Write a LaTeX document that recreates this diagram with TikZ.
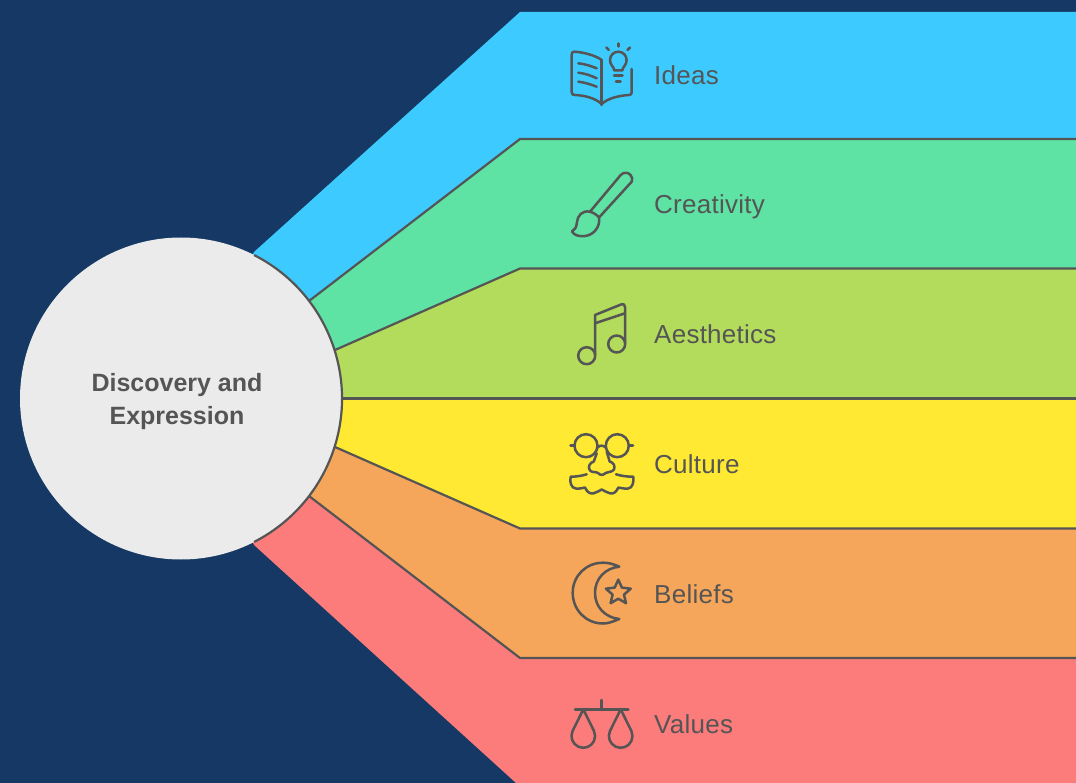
\documentclass[tikz,border=0pt]{standalone}
\usepackage{fontspec}
\setmainfont{Liberation Sans}
\definecolor{navy}{HTML}{153864}
\definecolor{bandblue}{HTML}{3DCBFF}
\definecolor{bandgreen}{HTML}{5EE3A5}
\definecolor{bandlime}{HTML}{B3DC5C}
\definecolor{bandyellow}{HTML}{FFE933}
\definecolor{bandorange}{HTML}{F5A65A}
\definecolor{bandred}{HTML}{FC7B7B}
\definecolor{hubgrey}{HTML}{EBEBEB}
\definecolor{ink}{HTML}{555555}
\tikzset{
  sep/.style={draw=ink,line width=2.2pt,line join=round},
  icon/.style={draw=ink,line width=2.5pt,line cap=round,line join=round},
  lab/.style={text=ink,font=\fontsize{26}{30}\selectfont\addfontfeature{LetterSpace=1},anchor=base west,inner sep=0pt},
}
\begin{document}
\begin{tikzpicture}[x=1pt,y=-1pt]
\useasboundingbox (0,0) rectangle (1076,783);
\fill[navy] (0,0) rectangle (1076,783);
% corner coordinates of the bands
\coordinate (c) at (181,398.5);
\coordinate (k0) at (520,12);  \coordinate (e0) at (1076,12);
\coordinate (k1) at (520,139); \coordinate (e1) at (1076,139);
\coordinate (k2) at (520,268.5); \coordinate (e2) at (1076,268.5);
\coordinate (k3) at (520,398.5); \coordinate (e3) at (1076,398.5);
\coordinate (k4) at (520,528.5); \coordinate (e4) at (1076,528.5);
\coordinate (k5) at (520,658); \coordinate (e5) at (1076,658);
\coordinate (k6) at (516,783); \coordinate (e6) at (1076,783);
\coordinate (s0) at (254,252);
\coordinate (s1) at (309,301);
\coordinate (s2) at (335,350);
\coordinate (s3) at (340,398.5);
\coordinate (s4) at (335,447);
\coordinate (s5) at (309,496);
\coordinate (s6) at (254,545);
% bands
\fill[bandblue] (s0)--(k0)--(e0)--(e1)--(k1)--(s1)--(c)--cycle;
\fill[bandgreen] (s1)--(k1)--(e1)--(e2)--(k2)--(s2)--(c)--cycle;
\fill[bandlime] (s2)--(k2)--(e2)--(e3)--(s3)--(c)--cycle;
\fill[bandyellow] (s3)--(e3)--(e4)--(k4)--(s4)--(c)--cycle;
\fill[bandorange] (s4)--(k4)--(e4)--(e5)--(k5)--(s5)--(c)--cycle;
\fill[bandred] (s5)--(k5)--(e5)--(e6)--(k6)--(s6)--(c)--cycle;
% separators
\draw[sep] (s1)--(k1)--(e1);
\draw[sep] (s2)--(k2)--(e2);
\draw[sep] (s3)--(e3);
\draw[sep] (s4)--(k4)--(e4);
\draw[sep] (s5)--(k5)--(e5);
% hub: the outline shows only where the circle borders the bands
\node[circle,fill=hubgrey,minimum size=322pt,inner sep=0pt] (hub) at (c) {};
\draw[sep] (c) ++(-63:161) arc[start angle=-63,end angle=63,radius=161];
\node[align=center,text=ink,inner sep=0pt,font=\fontsize{25}{32.5}\selectfont\bfseries] (hubtext) at (177,401.5) {Discovery and\\Expression};
% labels
\node[lab] (l1) at (654,84.5) {Ideas};
\node[lab] (l2) at (654,214) {Creativity};
\node[lab] (l3) at (654,343.5) {Aesthetics};
\node[lab] (l4) at (654,473) {Culture};
\node[lab] (l5) at (654,603) {Beliefs};
\node[lab] (l6) at (654,733) {Values};
% Ideas icon
\draw[icon] (601.7,60) .. controls (595,55) and (582,52) .. (574,51.7) .. controls (572,51.7) and (571.7,53) .. (571.7,55) -- (571.7,92) .. controls (571.7,94.5) and (573,95) .. (575,95) .. controls (585,95.5) and (595,98) .. (601.7,104) .. controls (608,98) and (620,95.5) .. (629,95) .. controls (631,95) and (631.7,94) .. (631.7,92) -- (631.7,69);
\draw[icon] (601.7,60)--(601.7,105);
\draw[icon] (578.3,63.3) .. controls (585,64) and (591,66) .. (596.7,68.3);
\draw[icon] (578.3,72.7) .. controls (585,73.5) and (591,75.5) .. (596.7,78.3);
\draw[icon] (578.3,81.7) .. controls (585,82.5) and (591,84.5) .. (596.7,86.7);
\draw[icon] (614.3,70.5) .. controls (614,66.5) and (610,65.5) .. (610,60) arc[start angle=180,end angle=360,radius=8.3] .. controls (626.6,65.5) and (622.6,66.5) .. (622.3,70.5) -- cycle;
\draw[icon] (614,75.5)--(622.5,75.5);
\draw[icon] (616,81.5)--(620.5,81.5);
\draw[icon] (618.3,43.5)--(618.3,46.5);
\draw[icon] (606.3,47.5)--(608.8,50);
\draw[icon] (630,47.5)--(627.5,50);
% Creativity icon
\draw[icon] (590,211.7) -- (620.7,175) .. controls (623.5,172) and (628,172) .. (630.5,175) .. controls (632.5,177) and (632.5,179.5) .. (631.7,181.7) -- (599,217.5);
\draw[icon] (590,211.7) .. controls (582,210) and (577.5,216) .. (577,222) .. controls (576.5,227) and (575,230) .. (572,231.5) .. controls (574,235.5) and (580,236.8) .. (585,236) .. controls (594,235) and (600.5,226.5) .. (599,217.5) .. controls (596.5,214.5) and (593,212.5) .. (590,211.7) -- cycle;
% Aesthetics icon
\draw[icon] (586.7,355.7) circle[radius=8.5];
\draw[icon] (616.7,344) circle[radius=8.5];
\draw[icon] (595,355)--(595,315)--(621,304.5) .. controls (623.5,303.5) and (625,304.5) .. (625,307) -- (625,343.3);
\draw[icon] (595,323.3)--(625,313.3);
% Culture icon
\draw[icon] (586,445.7) circle[radius=11.5];
\draw[icon] (617.3,445.7) circle[radius=11.5];
\draw[icon] (597.5,447.5) .. controls (600,445) and (603,445) .. (605.7,447.5);
\draw[icon] (570.5,445.7)--(574.5,445.7);
\draw[icon] (628.8,445.7)--(633,445.7);
\draw[icon] (596.7,453.3) -- (593.8,461.5) .. controls (589.5,462.5) and (587.5,467.5) .. (590,470.5) .. controls (592,472.8) and (596,471.5) .. (598,473) .. controls (600,475.5) and (603.5,475.5) .. (605.5,473) .. controls (608,471.5) and (612,472.5) .. (614,469.5) .. controls (615.5,466) and (613.5,462.5) .. (609.7,461.5) -- (606.7,451.7);
\draw[icon] (586.7,474.3) .. controls (581,476) and (576,476.7) .. (570.7,476.7) .. controls (569.5,482) and (571,488.3) .. (576,488.5) .. controls (580,488.9) and (582.5,488) .. (585,487.5) .. controls (587,492) and (590,494.3) .. (593.5,493.3) .. controls (597,492.5) and (599.5,490.5) .. (601.7,489.5) .. controls (604,490.5) and (606.5,492.5) .. (610,493.3) .. controls (613.5,494.3) and (616.5,492) .. (618.3,487.5) .. controls (621,488) and (624,488.9) .. (628,488.5) .. controls (632.5,488.3) and (634,482) .. (633.3,476.7) .. controls (627,476.7) and (621.5,476) .. (616,474.3);
% Beliefs icon
\draw[icon] (619.3,566.7) .. controls (612,563.5) and (608,562.7) .. (603,562.7) .. controls (586,562.7) and (572.7,576) .. (572.7,592.7) .. controls (572.7,610) and (586,623.5) .. (603,623.5) .. controls (608,623.5) and (612,622) .. (619.3,619) .. controls (605,617.5) and (595,607) .. (595,592.7) .. controls (595,579) and (605,568) .. (619.3,566.7) -- cycle;
\draw[icon] (618.3,579.7) -- (621.9,587.6) -- (630.7,588.7) -- (624,594.6) -- (626,603.2) -- (618.3,598.7) -- (610.6,603.2) -- (612.6,594.6) -- (605.9,588.7) -- (614.7,587.6) -- cycle;
% Values icon
\draw[icon] (575,709.3)--(628.3,709.3);
\draw[icon] (601.7,700)--(601.7,709.3);
\draw[icon] (583.3,709.3) -- (572.6,731) arc[start angle=205,end angle=-25,radius=11.8] -- cycle;
\draw[icon] (620.7,709.3) -- (610,731) arc[start angle=205,end angle=-25,radius=11.8] -- cycle;
\end{tikzpicture}
\end{document}
